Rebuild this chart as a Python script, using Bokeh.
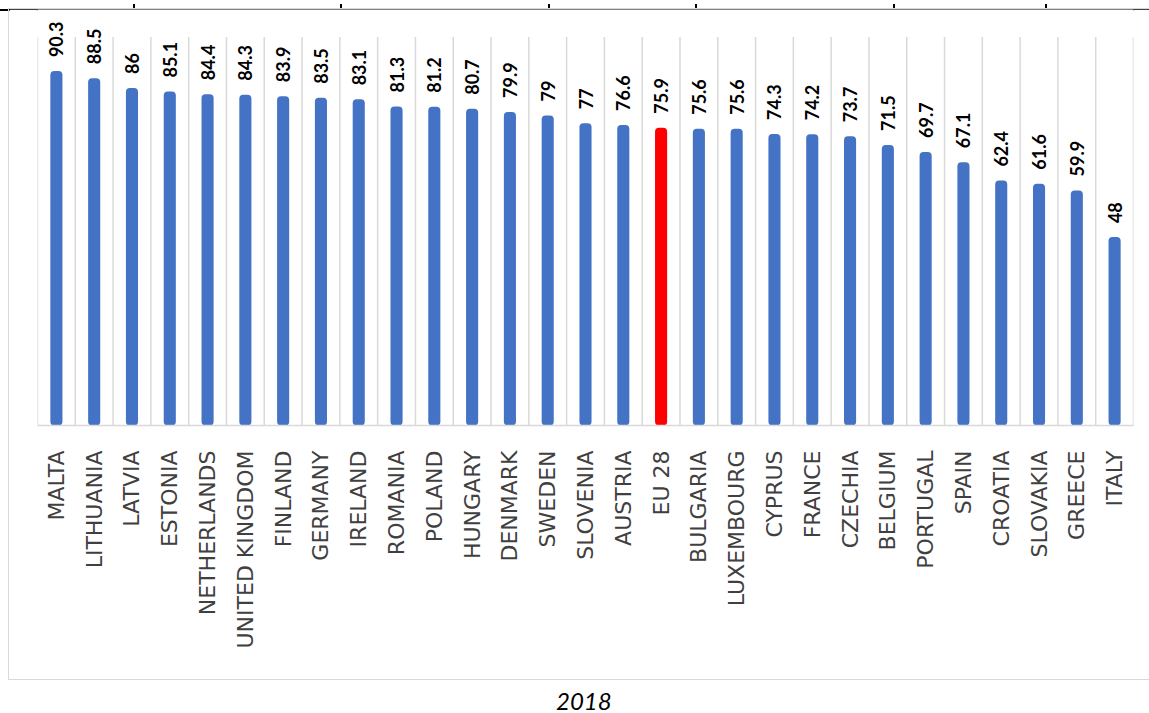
import math
from bokeh.plotting import figure
from bokeh.models import ColumnDataSource, Div, Range1d, Spacer, FixedTicker
from bokeh.layouts import column, row
from bokeh.core.properties import value
from bokeh.embed import file_html
from bokeh.resources import INLINE

countries = ["MALTA", "LITHUANIA", "LATVIA", "ESTONIA", "NETHERLANDS", "UNITED KINGDOM",
             "FINLAND", "GERMANY", "IRELAND", "ROMANIA", "POLAND", "HUNGARY", "DENMARK",
             "SWEDEN", "SLOVENIA", "AUSTRIA", "EU 28", "BULGARIA", "LUXEMBOURG", "CYPRUS",
             "FRANCE", "CZECHIA", "BELGIUM", "PORTUGAL", "SPAIN", "CROATIA", "SLOVAKIA",
             "GREECE", "ITALY"]
values = [90.3, 88.5, 86, 85.1, 84.4, 84.3, 83.9, 83.5, 83.1, 81.3, 81.2, 80.7, 79.9,
          79, 77, 76.6, 75.9, 75.6, 75.6, 74.3, 74.2, 73.7, 71.5, 69.7, 67.1, 62.4, 61.6,
          59.9, 48]
highlight = "EU 28"
title_text = "2018"

BLUE = "#4472C4"
RED = "#FF0000"
GRID = "#d9d9d9"
Y_GRID_TOP = 99      # top of the category separator lines
Y_VIEW_TOP = 106     # leaves room above for the value labels

n = len(countries)
centers = [i + 0.5 for i in range(n)]
src = ColumnDataSource(dict(
    x=centers,
    country=countries,
    value=values,
    label=[f"{v:g}" for v in values],
    color=[RED if c == highlight else BLUE for c in countries],
))
sep = ColumnDataSource(dict(
    x=list(range(n + 1)),
    y0=[0] * (n + 1),
    y1=[Y_GRID_TOP] * (n + 1),
))

p = figure(
    x_range=Range1d(0, n),
    y_range=Range1d(0, Y_VIEW_TOP),
    width=1141, height=672,
    output_backend="svg", toolbar_location=None,
    y_axis_location=None,
    min_border_left=28, min_border_top=0, min_border_right=17, min_border_bottom=256,
    margin=0,
    styles={"border-left": "1px solid #d9d9d9", "border-top": "1px solid #d9d9d9",
            "border-bottom": "1px solid #d9d9d9", "box-sizing": "border-box"},
)
p.outline_line_color = None
p.xgrid.visible = False
p.ygrid.visible = False

p.segment(x0="x", y0="y0", x1="x", y1="y1", source=sep,
          line_color=GRID, line_width=1.5)

p.vbar(x="x", top="value", bottom=0, width=0.32, source=src,
       fill_color="color", line_color=None, border_radius=4)

p.text(x="x", y="value", text="label", source=src, angle=math.pi / 2,
       text_align="left", text_baseline="middle", y_offset=-14,
       text_font=value("Lato"), text_font_style="bold", text_font_size="18px",
       text_color="black")

ax = p.xaxis[0]
ax.ticker = FixedTicker(ticks=centers, minor_ticks=[])
ax.major_label_overrides = {c: name for c, name in zip(centers, countries)}
ax.axis_line_color = GRID
ax.axis_line_width = 1.5
ax.major_tick_line_color = None
ax.minor_tick_line_color = None
ax.major_label_orientation = math.pi / 2
ax.major_label_standoff = 19
ax.major_label_text_font = "DejaVu Sans"
ax.major_label_text_font_size = "22px"
ax.major_label_text_color = "#404040"

# cropped table border at the very top of the source image
cuts = [133, 340, 548, 695, 893, 1045]
strip_html = '<div style="position:relative;width:1149px;height:8px;">' \
             '<div style="position:absolute;left:0;top:5px;width:1149px;height:2px;background:#000"></div>'
for c in cuts:
    strip_html += f'<div style="position:absolute;left:{c}px;top:0;width:2px;height:6px;background:#000"></div>'
strip_html += '</div>'
strip = Div(text=strip_html, width=1149, height=8, margin=0)

title = Div(
    text=f'<div style="font-style:italic;font-family:Lato,sans-serif;font-size:24px;'
         f'color:#000;padding-left:556px;padding-top:8px;line-height:26px">{title_text}</div>',
    width=1149, height=33, margin=0,
)

layout = column(strip, row(Spacer(width=8, height=672, margin=0), p, spacing=0, margin=0),
                title, spacing=0, margin=0)
open("out.html", "w").write(file_html(layout, INLINE))
